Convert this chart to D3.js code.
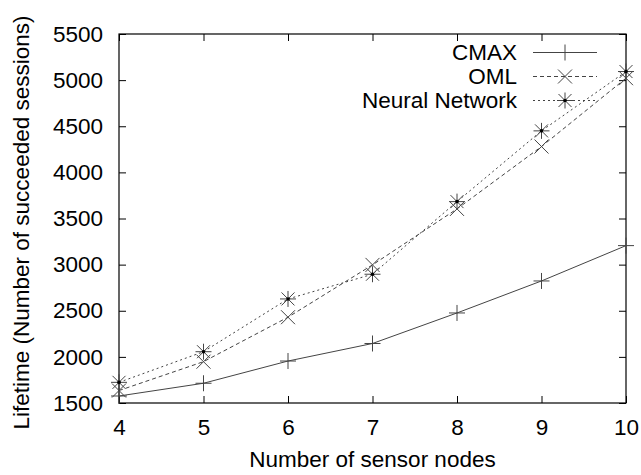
<!DOCTYPE html>
<html>
<head>
<meta charset="utf-8">
<script src="https://cdn.jsdelivr.net/npm/d3@7"></script>
<style>
  body { margin: 0; background: #fff; }
  svg text { font-family: "Liberation Sans", Arial, sans-serif; fill: #000; }
</style>
</head>
<body>
<div id="chart"></div>
<script>
// data
const nodes = [4, 5, 6, 7, 8, 9, 10];
const cmax = [1576, 1714, 1955, 2145, 2476, 2823, 3206];
const oml = [1635, 1948, 2430, 2997, 3604, 4280, 5021];
const neural = [1724, 2056, 2628, 2896, 3683, 4450, 5093];
const yTicks = [1500, 2000, 2500, 3000, 3500, 4000, 4500, 5000, 5500];
const seriesNames = ["CMAX", "OML", "Neural Network"];

const W = 641, H = 475;
const margin = {top: 34, right: 15, bottom: 72, left: 119};
const width = W - margin.left - margin.right;
const height = H - margin.top - margin.bottom;
const fs = 22.5;

const svg = d3.select("#chart").append("svg")
    .attr("width", W)
    .attr("height", H);

const g = svg.append("g")
    .attr("transform", `translate(${margin.left},${margin.top})`);

const x = d3.scaleLinear().domain([4, 10]).range([0, width]);
const y = d3.scaleLinear().domain([1500, 5500]).range([height, 0]);

// axes, ticks pointing inward on all four sides (gnuplot mirror style)
const tickLen = 7;
g.append("g")
    .attr("transform", `translate(0,${height})`)
    .call(d3.axisBottom(x).tickValues(nodes).tickFormat(d3.format("d"))
        .tickSizeInner(-tickLen).tickSizeOuter(0).tickPadding(16))
    .call(a => a.select(".domain").remove())
    .selectAll("text").attr("font-size", fs);

g.append("g")
    .call(d3.axisLeft(y).tickValues(yTicks).tickFormat(d3.format("d"))
        .tickSizeInner(-tickLen).tickSizeOuter(0).tickPadding(16))
    .call(a => a.select(".domain").remove())
    .selectAll("text").attr("font-size", fs);

g.append("g")
    .call(d3.axisTop(x).tickValues(nodes).tickSizeInner(-tickLen).tickSizeOuter(0).tickFormat(""))
    .call(a => a.select(".domain").remove());

g.append("g")
    .attr("transform", `translate(${width},0)`)
    .call(d3.axisRight(y).tickValues(yTicks).tickSizeInner(-tickLen).tickSizeOuter(0).tickFormat(""))
    .call(a => a.select(".domain").remove());

g.selectAll(".tick line").attr("stroke", "#000").attr("stroke-width", 1);

// frame
g.append("rect")
    .attr("width", width)
    .attr("height", height)
    .attr("fill", "none")
    .attr("stroke", "#000")
    .attr("stroke-width", 1.2);

// axis titles
svg.append("text")
    .attr("x", margin.left + width / 2)
    .attr("y", 467)
    .attr("text-anchor", "middle")
    .attr("font-size", fs)
    .text("Number of sensor nodes");

svg.append("text")
    .attr("transform", `translate(21,${margin.top + height / 2 + 4}) rotate(-90)`)
    .attr("dy", "0.35em")
    .attr("text-anchor", "middle")
    .attr("font-size", fs)
    .text("Lifetime (Number of succeeded sessions)");

// marker shapes
function plusPath(s) { return `M${-s},0H${s}M0,${-s}V${s}`; }
function crossPath(s) { return `M${-s},${-s}L${s},${s}M${-s},${s}L${s},${-s}`; }

const series = [
    {name: seriesNames[0], values: cmax, dash: null, marker: plusPath(8), dot: false},
    {name: seriesNames[1], values: oml, dash: "4,3", marker: crossPath(7), dot: false},
    {name: seriesNames[2], values: neural, dash: "2,3", marker: plusPath(8) + crossPath(6.5), dot: true}
];

const line = d3.line().x(d => x(d[0])).y(d => y(d[1]));
const lineColor = "#444";

series.forEach(s => {
    const pts = nodes.map((n, i) => [n, s.values[i]]);
    g.append("path")
        .datum(pts)
        .attr("fill", "none")
        .attr("stroke", lineColor)
        .attr("stroke-width", 1)
        .attr("stroke-dasharray", s.dash)
        .attr("d", line);
    g.selectAll(null)
        .data(pts)
        .enter()
        .append("path")
        .attr("transform", d => `translate(${x(d[0])},${y(d[1])})`)
        .attr("d", s.marker)
        .attr("stroke", lineColor)
        .attr("stroke-width", 1)
        .attr("fill", "none");
    if (s.dot) {
        g.selectAll(null)
            .data(pts)
            .enter()
            .append("circle")
            .attr("cx", d => x(d[0]))
            .attr("cy", d => y(d[1]))
            .attr("r", 1.8)
            .attr("fill", "#000");
    }
});

// legend
const legend = svg.append("g");
series.forEach((s, i) => {
    const ly = 52.5 + i * 24;
    legend.append("text")
        .attr("x", 517)
        .attr("y", ly)
        .attr("dy", "0.35em")
        .attr("text-anchor", "end")
        .attr("font-size", fs)
        .text(s.name);
    legend.append("line")
        .attr("x1", 533).attr("x2", 597)
        .attr("y1", ly).attr("y2", ly)
        .attr("stroke", lineColor)
        .attr("stroke-dasharray", s.dash);
    legend.append("path")
        .attr("transform", `translate(565,${ly})`)
        .attr("d", s.marker)
        .attr("stroke", lineColor)
        .attr("fill", "none");
    if (s.dot) {
        legend.append("circle").attr("cx", 565).attr("cy", ly).attr("r", 1.8).attr("fill", "#000");
    }
});
</script>
</body>
</html>
